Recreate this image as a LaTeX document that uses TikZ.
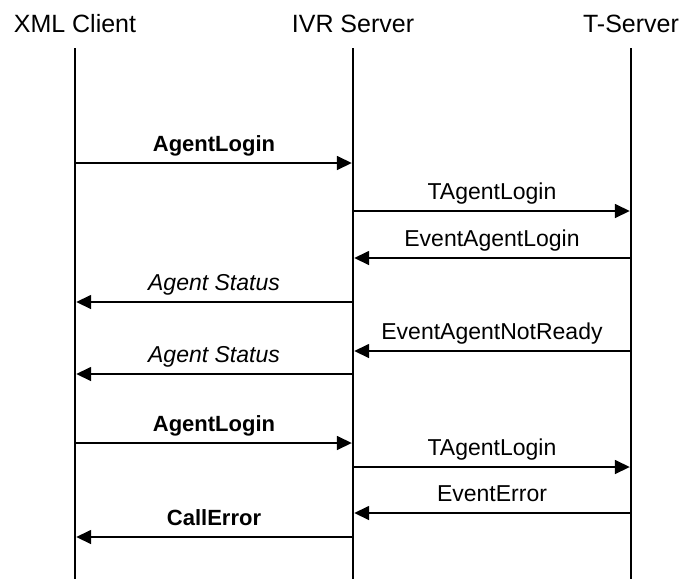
\documentclass[tikz,border=0pt]{standalone}
\usepackage{fontspec}
\setmainfont{Liberation Sans}
\usetikzlibrary{arrows.meta}
\tikzset{
  life/.style={line width=2.7pt},
  msg/.style={line width=1.6pt, -{Triangle[length=15pt,width=14pt]}, shorten >=1.2pt, shorten <=1.2pt},
  title/.style={anchor=base, inner sep=0pt, font=\fontsize{25}{30}\selectfont},
  lbl/.style={midway, anchor=base, inner sep=0pt, yshift=12pt, font=\fontsize{23}{27}\selectfont},
  blbl/.style={lbl, font=\fontsize{22}{27}\selectfont\bfseries},
  ilbl/.style={lbl, font=\fontsize{23}{27}\selectfont\itshape}
}
\begin{document}
\begin{tikzpicture}[x=1pt,y=-1pt]
\useasboundingbox (0,0) rectangle (683,579);
\node[title] (tx) at (75,32) {XML Client};
\node[title] (ti) at (353,32) {IVR Server};
\node[title] (tt) at (631,32) {T-Server};
\coordinate (xc) at (75,48);
\coordinate (iv) at (353,48);
\coordinate (ts) at (631,48);
\coordinate (xcb) at (75,579);
\coordinate (ivb) at (353,579);
\coordinate (tsb) at (631,579);
\draw[life] (xc) -- (xcb);
\draw[life] (iv) -- (ivb);
\draw[life] (ts) -- (tsb);
\draw[msg] (xc |- 0,163) -- node[blbl] (m1) {AgentLogin} (iv |- 0,163);
\draw[msg] (iv |- 0,211) -- node[lbl] (m2) {TAgentLogin} (ts |- 0,211);
\draw[msg] (ts |- 0,258) -- node[lbl] (m3) {EventAgentLogin} (iv |- 0,258);
\draw[msg] (iv |- 0,302) -- node[ilbl] (m4) {Agent Status} (xc |- 0,302);
\draw[msg] (ts |- 0,351) -- node[lbl] (m5) {EventAgentNotReady} (iv |- 0,351);
\draw[msg] (iv |- 0,374) -- node[ilbl] (m6) {Agent Status} (xc |- 0,374);
\draw[msg] (xc |- 0,443) -- node[blbl] (m7) {AgentLogin} (iv |- 0,443);
\draw[msg] (iv |- 0,467) -- node[lbl] (m8) {TAgentLogin} (ts |- 0,467);
\draw[msg] (ts |- 0,513) -- node[lbl] (m9) {EventError} (iv |- 0,513);
\draw[msg] (iv |- 0,537) -- node[blbl] (m10) {CallError} (xc |- 0,537);
\end{tikzpicture}
\end{document}
